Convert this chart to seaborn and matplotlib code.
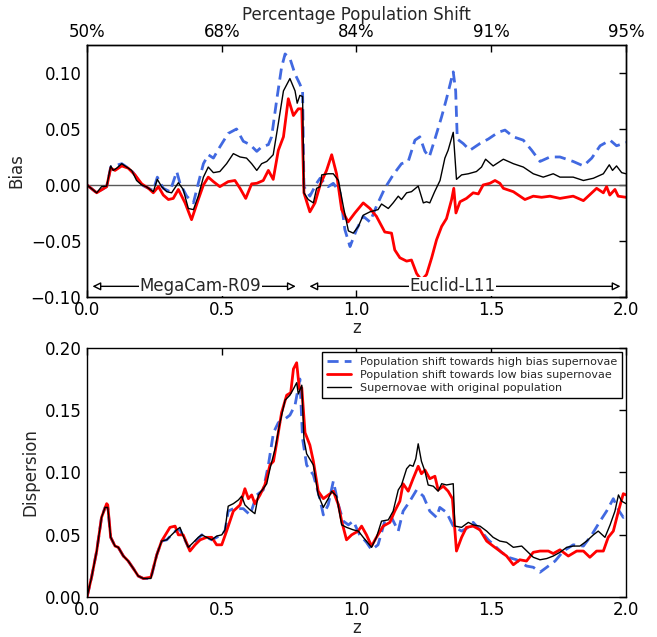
import numpy as np
import pandas as pd
import seaborn as sns
import matplotlib
matplotlib.use('Agg')
import matplotlib.pyplot as plt

# ---- bias (top panel) ----
z_bias_orig = [0.0, 0.036, 0.054, 0.073, 0.088, 0.097, 0.11, 0.129, 0.147, 0.166, 0.184, 0.203, 0.22, 0.246,
               0.261, 0.277, 0.296, 0.314, 0.339, 0.357, 0.376, 0.395, 0.413, 0.432, 0.45, 0.469, 0.493, 0.518,
               0.543, 0.568, 0.592, 0.611, 0.63, 0.648, 0.667, 0.691, 0.71, 0.729, 0.753, 0.772, 0.78, 0.79,
               0.80, 0.805, 0.821, 0.84, 0.852, 0.865, 0.871, 0.895, 0.914, 0.933, 0.951, 0.97, 0.988, 1.007,
               1.025, 1.05, 1.08, 1.093, 1.118, 1.136, 1.155, 1.167, 1.186, 1.204, 1.229, 1.248, 1.26, 1.272,
               1.29, 1.31, 1.328, 1.34, 1.359, 1.371, 1.39, 1.415, 1.445, 1.464, 1.479, 1.507, 1.545, 1.582,
               1.619, 1.656, 1.693, 1.73, 1.755, 1.804, 1.842, 1.879, 1.916, 1.938, 1.95, 1.965, 1.984, 2.0]
bias_orig = [0.0, -0.007, -0.0015, -0.001, 0.017, 0.013, 0.015, 0.019, 0.016, 0.013, 0.004, 0.0, -0.0015, -0.006,
             0.005, -0.0015, -0.006, -0.007, 0.002, -0.004, -0.021, -0.022, -0.010, 0.007, 0.016, 0.011, 0.012, 0.019,
             0.028, 0.025, 0.024, 0.019, 0.013, 0.019, 0.021, 0.027, 0.055, 0.084, 0.095, 0.084, 0.073, 0.080,
             0.079, -0.007, -0.013, -0.016, -0.003, -0.0015, 0.009, 0.010, 0.010, 0.004, -0.019, -0.041, -0.043, -0.037,
             -0.027, -0.024, -0.022, -0.017, -0.021, -0.016, -0.010, -0.013, -0.007, -0.006, -0.001, -0.016, -0.015, -0.016,
             -0.006, 0.004, 0.024, 0.031, 0.047, 0.005, 0.009, 0.010, 0.012, 0.016, 0.023, 0.017, 0.023, 0.019,
             0.016, 0.010, 0.007, 0.010, 0.007, 0.007, 0.004, 0.006, 0.010, 0.018, 0.013, 0.017, 0.011, 0.010]

z_bias_low = [0.0, 0.036, 0.073, 0.088, 0.104, 0.129, 0.153, 0.178, 0.203, 0.228, 0.246, 0.265, 0.283, 0.302,
              0.32, 0.339, 0.364, 0.388, 0.413, 0.432, 0.45, 0.469, 0.493, 0.524, 0.549, 0.568, 0.589, 0.611,
              0.63, 0.654, 0.673, 0.691, 0.71, 0.729, 0.747, 0.766, 0.784, 0.797, 0.805, 0.827, 0.846, 0.865,
              0.889, 0.908, 0.926, 0.945, 0.969, 0.994, 1.025, 1.05, 1.074, 1.105, 1.13, 1.142, 1.161, 1.186,
              1.204, 1.223, 1.241, 1.26, 1.279, 1.297, 1.316, 1.334, 1.353, 1.361, 1.369, 1.384, 1.408, 1.433,
              1.452, 1.47, 1.495, 1.514, 1.532, 1.545, 1.582, 1.625, 1.656, 1.687, 1.718, 1.755, 1.804, 1.842,
              1.891, 1.916, 1.928, 1.94, 1.959, 1.971, 2.0]
bias_low = [0.0, -0.007, -0.0015, 0.015, 0.013, 0.017, 0.015, 0.009, 0.001, -0.003, -0.007, -0.0015, -0.009, -0.013,
            -0.012, -0.004, -0.016, -0.031, -0.013, 0.0, 0.007, 0.003, -0.0015, 0.003, 0.004, -0.003, -0.012, 0.001,
            0.0015, 0.004, 0.013, 0.005, 0.031, 0.043, 0.077, 0.062, 0.068, 0.068, -0.007, -0.024, -0.016, 0.0,
            0.013, 0.027, 0.010, -0.022, -0.033, -0.025, -0.016, -0.021, -0.028, -0.042, -0.043, -0.058, -0.065, -0.068,
            -0.067, -0.079, -0.085, -0.080, -0.065, -0.049, -0.037, -0.030, -0.013, -0.003, -0.025, -0.015, -0.012, -0.007,
            -0.008, 0.0, 0.0015, 0.004, 0.0015, -0.003, -0.006, -0.013, -0.010, -0.011, -0.010, -0.012, -0.010, -0.014,
            -0.003, -0.007, -0.0015, -0.009, -0.004, -0.010, -0.011]

z_bias_high = [0.0, 0.036, 0.073, 0.088, 0.129, 0.166, 0.203, 0.246, 0.261, 0.283, 0.308, 0.333, 0.345, 0.37,
               0.395, 0.413, 0.432, 0.45, 0.469, 0.493, 0.524, 0.555, 0.58, 0.605, 0.63, 0.648, 0.673, 0.685,
               0.704, 0.722, 0.735, 0.753, 0.772, 0.79, 0.80, 0.805, 0.827, 0.852, 0.865, 0.895, 0.914, 0.939,
               0.957, 0.976, 1.0, 1.025, 1.05, 1.074, 1.105, 1.136, 1.167, 1.192, 1.217, 1.235, 1.254, 1.27,
               1.291, 1.316, 1.334, 1.359, 1.368, 1.374, 1.396, 1.421, 1.458, 1.489, 1.526, 1.551, 1.582, 1.619,
               1.65, 1.681, 1.718, 1.755, 1.804, 1.842, 1.873, 1.904, 1.941, 1.965, 1.99, 2.0]
bias_high = [0.0, -0.007, -0.0015, 0.016, 0.019, 0.013, 0.0, -0.005, 0.007, -0.003, -0.006, 0.012, 0.0015, -0.010,
             -0.016, 0.0015, 0.019, 0.027, 0.024, 0.034, 0.046, 0.050, 0.039, 0.036, 0.030, 0.034, 0.036, 0.043,
             0.076, 0.105, 0.117, 0.113, 0.099, 0.090, 0.084, -0.0015, -0.010, 0.0015, 0.006, -0.0015, 0.0015, -0.007,
             -0.040, -0.055, -0.040, -0.028, -0.033, -0.019, -0.003, 0.009, 0.019, 0.021, 0.040, 0.043, 0.030, 0.025,
             0.041, 0.061, 0.077, 0.101, 0.084, 0.041, 0.037, 0.031, 0.037, 0.041, 0.047, 0.049, 0.043, 0.040,
             0.031, 0.021, 0.025, 0.025, 0.021, 0.017, 0.024, 0.035, 0.040, 0.035, 0.037, 0.038]

# ---- dispersion (bottom panel) ----
z_disp_orig = [0.0, 0.017, 0.036, 0.054, 0.067, 0.077, 0.088, 0.104, 0.116, 0.135, 0.153, 0.172, 0.19, 0.209,
               0.237, 0.259, 0.277, 0.296, 0.314, 0.333, 0.345, 0.357, 0.376, 0.395, 0.413, 0.426, 0.444, 0.463,
               0.481, 0.5, 0.512, 0.524, 0.543, 0.562, 0.574, 0.586, 0.605, 0.623, 0.636, 0.654, 0.667, 0.679,
               0.698, 0.716, 0.735, 0.753, 0.766, 0.778, 0.784, 0.797, 0.805, 0.815, 0.84, 0.858, 0.877, 0.895,
               0.908, 0.926, 0.945, 0.963, 0.988, 1.007, 1.025, 1.056, 1.074, 1.093, 1.118, 1.136, 1.155, 1.167,
               1.186, 1.198, 1.21, 1.22, 1.229, 1.241, 1.254, 1.266, 1.285, 1.303, 1.316, 1.334, 1.359, 1.365,
               1.39, 1.415, 1.433, 1.458, 1.483, 1.507, 1.532, 1.557, 1.582, 1.613, 1.637, 1.656, 1.681, 1.706,
               1.73, 1.755, 1.78, 1.804, 1.829, 1.854, 1.879, 1.897, 1.922, 1.941, 1.959, 1.972, 1.984, 2.0]
disp_orig = [0.0, 0.016, 0.037, 0.064, 0.072, 0.072, 0.048, 0.041, 0.040, 0.033, 0.029, 0.023, 0.017, 0.015,
             0.015, 0.034, 0.045, 0.046, 0.050, 0.054, 0.056, 0.049, 0.040, 0.044, 0.048, 0.050, 0.048, 0.046,
             0.049, 0.050, 0.054, 0.073, 0.075, 0.078, 0.081, 0.074, 0.070, 0.067, 0.082, 0.087, 0.091, 0.103,
             0.119, 0.140, 0.158, 0.162, 0.167, 0.172, 0.163, 0.170, 0.127, 0.115, 0.106, 0.082, 0.072, 0.079,
             0.085, 0.081, 0.058, 0.056, 0.054, 0.053, 0.048, 0.040, 0.048, 0.061, 0.062, 0.069, 0.086, 0.090,
             0.103, 0.106, 0.105, 0.111, 0.123, 0.109, 0.101, 0.090, 0.089, 0.085, 0.091, 0.090, 0.091, 0.057,
             0.056, 0.060, 0.058, 0.057, 0.053, 0.048, 0.045, 0.044, 0.040, 0.041, 0.036, 0.032, 0.030, 0.031,
             0.033, 0.036, 0.040, 0.041, 0.041, 0.045, 0.050, 0.053, 0.048, 0.058, 0.069, 0.082, 0.077, 0.075]

z_disp_low = [0.0, 0.017, 0.036, 0.054, 0.073, 0.077, 0.088, 0.104, 0.116, 0.135, 0.153, 0.172, 0.19, 0.209,
              0.237, 0.259, 0.277, 0.308, 0.327, 0.339, 0.357, 0.382, 0.401, 0.42, 0.444, 0.463, 0.481, 0.5,
              0.518, 0.543, 0.568, 0.586, 0.599, 0.611, 0.623, 0.642, 0.66, 0.679, 0.692, 0.704, 0.722, 0.741,
              0.756, 0.766, 0.778, 0.788, 0.797, 0.809, 0.827, 0.84, 0.858, 0.877, 0.902, 0.914, 0.933, 0.945,
              0.963, 0.982, 1.006, 1.019, 1.037, 1.056, 1.074, 1.099, 1.124, 1.142, 1.161, 1.173, 1.192, 1.21,
              1.229, 1.241, 1.254, 1.272, 1.291, 1.303, 1.322, 1.34, 1.356, 1.371, 1.39, 1.408, 1.433, 1.458,
              1.483, 1.507, 1.532, 1.557, 1.582, 1.606, 1.631, 1.656, 1.681, 1.712, 1.73, 1.755, 1.786, 1.817,
              1.842, 1.866, 1.891, 1.916, 1.934, 1.953, 1.972, 1.99, 2.0]
disp_low = [0.0, 0.016, 0.037, 0.064, 0.075, 0.074, 0.048, 0.041, 0.040, 0.033, 0.029, 0.023, 0.017, 0.015,
            0.016, 0.034, 0.045, 0.056, 0.057, 0.050, 0.050, 0.037, 0.042, 0.046, 0.048, 0.048, 0.042, 0.042,
            0.053, 0.069, 0.074, 0.087, 0.079, 0.082, 0.075, 0.082, 0.090, 0.106, 0.109, 0.124, 0.148, 0.162,
            0.164, 0.183, 0.188, 0.167, 0.168, 0.132, 0.122, 0.109, 0.085, 0.079, 0.083, 0.085, 0.074, 0.061,
            0.046, 0.050, 0.053, 0.057, 0.050, 0.041, 0.048, 0.057, 0.060, 0.069, 0.077, 0.091, 0.085, 0.095,
            0.105, 0.099, 0.102, 0.095, 0.097, 0.086, 0.089, 0.085, 0.079, 0.037, 0.048, 0.056, 0.057, 0.054,
            0.045, 0.041, 0.037, 0.033, 0.026, 0.030, 0.029, 0.036, 0.037, 0.037, 0.035, 0.038, 0.033, 0.037,
            0.037, 0.032, 0.037, 0.037, 0.048, 0.053, 0.069, 0.083, 0.082]

z_disp_high = [0.0, 0.017, 0.036, 0.054, 0.067, 0.077, 0.088, 0.104, 0.116, 0.135, 0.153, 0.172, 0.19, 0.209,
               0.237, 0.259, 0.277, 0.296, 0.314, 0.333, 0.345, 0.357, 0.376, 0.395, 0.413, 0.426, 0.444, 0.463,
               0.481, 0.5, 0.512, 0.524, 0.543, 0.555, 0.58, 0.605, 0.63, 0.654, 0.673, 0.692, 0.71, 0.735,
               0.753, 0.772, 0.79, 0.80, 0.815, 0.84, 0.864, 0.877, 0.895, 0.914, 0.933, 0.951, 0.97, 0.988,
               1.012, 1.037, 1.056, 1.08, 1.105, 1.13, 1.155, 1.173, 1.198, 1.223, 1.248, 1.272, 1.297, 1.309,
               1.334, 1.359, 1.39, 1.415, 1.433, 1.458, 1.489, 1.514, 1.538, 1.563, 1.594, 1.631, 1.656, 1.681,
               1.706, 1.737, 1.768, 1.804, 1.842, 1.873, 1.904, 1.928, 1.953, 1.972, 1.99, 2.0]
disp_high = [0.0, 0.016, 0.037, 0.064, 0.072, 0.072, 0.048, 0.041, 0.040, 0.033, 0.029, 0.023, 0.017, 0.015,
             0.015, 0.034, 0.045, 0.046, 0.050, 0.054, 0.054, 0.049, 0.040, 0.043, 0.047, 0.050, 0.048, 0.046,
             0.048, 0.050, 0.053, 0.069, 0.071, 0.071, 0.071, 0.066, 0.082, 0.086, 0.106, 0.132, 0.140, 0.143,
             0.146, 0.154, 0.175, 0.127, 0.106, 0.098, 0.079, 0.066, 0.074, 0.093, 0.074, 0.061, 0.058, 0.061,
             0.050, 0.044, 0.038, 0.042, 0.061, 0.064, 0.053, 0.069, 0.077, 0.086, 0.081, 0.069, 0.064, 0.072,
             0.068, 0.057, 0.053, 0.056, 0.060, 0.054, 0.046, 0.041, 0.036, 0.032, 0.030, 0.025, 0.024, 0.020,
             0.024, 0.029, 0.037, 0.042, 0.041, 0.050, 0.061, 0.069, 0.079, 0.070, 0.064, 0.066]

top_tick_pos = [0.0, 0.5, 1.0, 1.5, 2.0]
top_tick_labels = ['50%', '68%', '84%', '91%', '95%']

sns.set_style('white')
plt.rcParams['font.family'] = ['DejaVu Sans']
plt.rcParams['xtick.direction'] = 'in'
plt.rcParams['ytick.direction'] = 'in'

fig = plt.figure(figsize=(6.57, 6.37), dpi=100)
ax1 = fig.add_axes([0.1324, 0.5338, 0.8204, 0.3956])
ax2 = fig.add_axes([0.1324, 0.0625, 0.8204, 0.3915])

high_kw = dict(color='royalblue', linewidth=2, linestyle=(0, (4, 2.2)))
low_kw = dict(color='red', linewidth=2)
orig_kw = dict(color='black', linewidth=1)

# top panel: bias
ax1.axhline(0, color='0.35', linewidth=1, zorder=1)
sns.lineplot(x=z_bias_high, y=bias_high, ax=ax1, sort=False, estimator=None, **high_kw)
sns.lineplot(x=z_bias_low, y=bias_low, ax=ax1, sort=False, estimator=None, **low_kw)
sns.lineplot(x=z_bias_orig, y=bias_orig, ax=ax1, sort=False, estimator=None, **orig_kw)
ax1.set_xlim(0, 2)
ax1.set_ylim(-0.1, 0.125)
ax1.set_yticks([-0.10, -0.05, 0.0, 0.05, 0.10])
ax1.set_yticklabels(['\u22120.10', '\u22120.05', '0.00', '0.05', '0.10'])
ax1.set_xticks([0.0, 0.5, 1.0, 1.5, 2.0])
ax1.set_xlabel('z', fontsize=12, labelpad=0)
ax1.set_ylabel('Bias', fontsize=12)

# survey range annotations
arrow = dict(arrowstyle='<|-|>', color='black', lw=1, fc='white', mutation_scale=12)
ax1.annotate('', xy=(0.01, -0.0905), xytext=(0.785, -0.0905), arrowprops=arrow)
ax1.annotate('', xy=(0.815, -0.0905), xytext=(1.99, -0.0905), arrowprops=arrow)
ax1.text(0.42, -0.0905, 'MegaCam-R09', ha='center', va='center', fontsize=12,
         bbox=dict(fc='white', ec='none', pad=0.5))
ax1.text(1.357, -0.0905, 'Euclid-L11', ha='center', va='center', fontsize=12,
         bbox=dict(fc='white', ec='none', pad=0.5))

# top axis: population shift
ax1t = ax1.twiny()
ax1t.set_xlim(0, 2)
ax1t.set_xticks(top_tick_pos)
ax1t.set_xticklabels(top_tick_labels)
ax1t.set_xlabel('Percentage Population Shift', fontsize=12, labelpad=2)

# bottom panel: dispersion
sns.lineplot(x=z_disp_high, y=disp_high, ax=ax2, sort=False, estimator=None,
             label='Population shift towards high bias supernovae', **high_kw)
sns.lineplot(x=z_disp_low, y=disp_low, ax=ax2, sort=False, estimator=None,
             label='Population shift towards low bias supernovae', **low_kw)
sns.lineplot(x=z_disp_orig, y=disp_orig, ax=ax2, sort=False, estimator=None,
             label='Supernovae with original population', **orig_kw)
ax2.set_xlim(0, 2)
ax2.set_ylim(0, 0.2)
ax2.set_yticks([0.0, 0.05, 0.10, 0.15, 0.20])
ax2.set_yticklabels(['0.00', '0.05', '0.10', '0.15', '0.20'])
ax2.set_xticks([0.0, 0.5, 1.0, 1.5, 2.0])
ax2.set_xlabel('z', fontsize=12, labelpad=0)
ax2.set_ylabel('Dispersion', fontsize=12)
ax2.legend(loc='upper right', fontsize=8, frameon=True, fancybox=False, edgecolor='black',
           framealpha=1, borderaxespad=0.4, handlelength=2.2, labelspacing=0.3)

for a in (ax1, ax2, ax1t):
    for s in a.spines.values():
        s.set_color('black')
        s.set_linewidth(1)
for a in (ax1, ax2):
    a.tick_params(which='major', direction='in', length=5, width=1, top=True, right=True,
                  labelsize=12, colors='black', pad=4)
    a.tick_params(axis='x', pad=3)
ax1.tick_params(top=False)
ax1t.tick_params(which='major', direction='in', length=5, width=1, labelsize=12, colors='black', pad=3)

fig.savefig('out.png', dpi=100)
